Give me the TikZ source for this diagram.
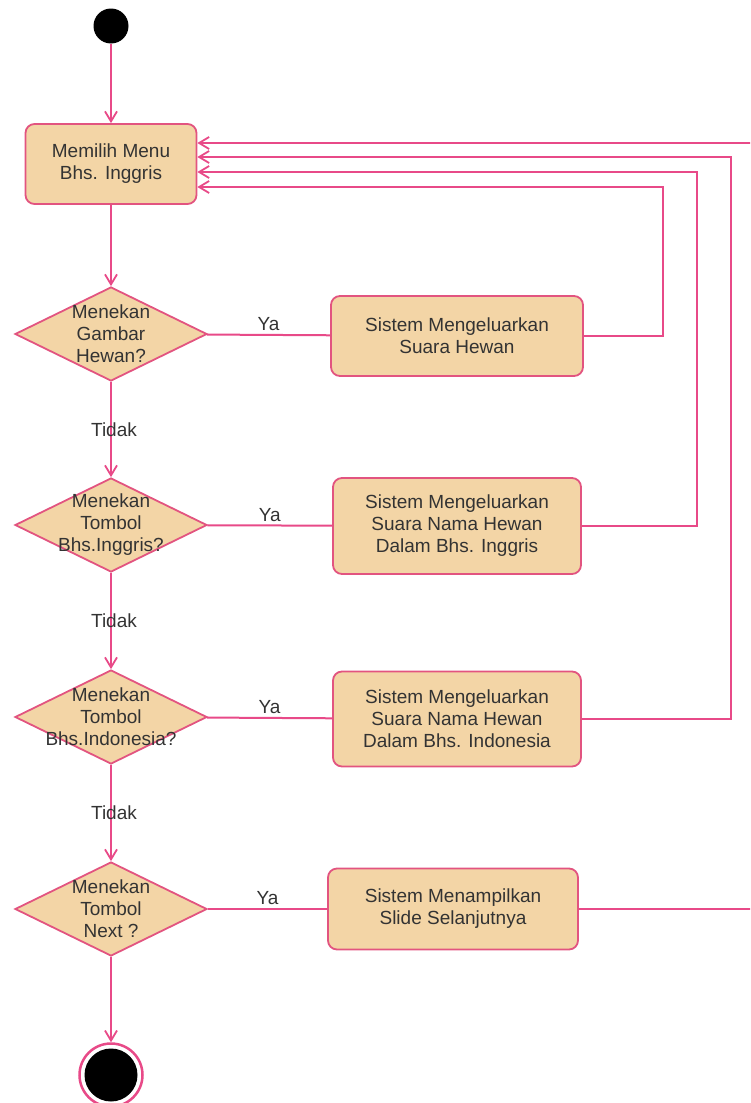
\documentclass[tikz,border=0pt]{standalone}
\usepackage{fontspec}
\setmainfont{Liberation Sans}
\usetikzlibrary{shapes.geometric,arrows.meta}
\definecolor{linec}{RGB}{232,74,136}
\definecolor{edgec}{RGB}{226,84,128}
\definecolor{boxfill}{RGB}{243,213,166}
\definecolor{txt}{RGB}{51,51,51}
\begin{document}
\begin{tikzpicture}[x=1pt,y=-1pt,
  font=\fontsize{19}{22}\selectfont, text=txt,
  action/.style={rectangle, rounded corners=9pt, draw=edgec, line width=1.8pt,
    fill=boxfill, align=center, inner sep=0pt},
  decision/.style={diamond, draw=edgec, line width=1.8pt, fill=boxfill,
    inner sep=0pt, minimum width=192pt, minimum height=94pt},
  dtext/.style={align=center, inner sep=0pt},
  startnode/.style={circle, fill=black, minimum size=35pt, inner sep=0pt},
  endnode/.style={circle, draw=linec, line width=2.5pt, fill=white,
    minimum size=63pt, inner sep=0pt,
    path picture={\fill[black] (path picture bounding box.center) circle (26.5pt);}},
  link/.style={draw=linec, line width=2pt},
  flow/.style={link, -{Straight Barb[length=10pt,width=12pt,line width=1.8pt]}},
  yes/.style={midway, above, inner sep=3pt},
  no/.style={midway, inner sep=0pt, xshift=3pt}
]
\clip (0,0) rectangle (750,1103);

% start and end
\node[startnode] (start) at (111,26) {};
\node[endnode] (stop) at (111,1075) {};

% main menu
\node[action, minimum width=171pt, minimum height=80pt] (m1) at (111,164)
  {Memilih Menu\\Bhs. Inggris};

% decisions
\node[decision] (d1) at (111,334) {};
\node[dtext] at (d1) {Menekan\\Gambar\\Hewan?};
\node[decision] (d2) at (111,525) {};
\node[dtext] at (d2) {Menekan\\Tombol\\Bhs.Inggris?};
\node[decision] (d3) at (111,717) {};
\node[dtext] at (d3) {Menekan\\Tombol\\Bhs.Indonesia?};
\node[decision] (d4) at (111,909) {};
\node[dtext] at (d4) {Menekan\\Tombol\\Next ?};

% actions
\node[action, minimum width=252pt, minimum height=80pt] (b2) at (457,336)
  {Sistem Mengeluarkan\\Suara Hewan};
\node[action, minimum width=248pt, minimum height=96pt] (b3) at (457,526)
  {Sistem Mengeluarkan\\Suara Nama Hewan\\Dalam Bhs. Inggris};
\node[action, minimum width=248pt, minimum height=95pt] (b4) at (457,719)
  {Sistem Mengeluarkan\\Suara Nama Hewan\\Dalam Bhs. Indonesia};
\node[action, minimum width=250pt, minimum height=81pt] (b5) at (453,909)
  {Sistem Menampilkan\\Slide Selanjutnya};

% return points on the right
\coordinate (r1) at (663,187);
\coordinate (r2) at (697,172);
\coordinate (r3) at (731,157);
\coordinate (r4) at (765,143);

% main flow
\draw[flow] (start) -- (m1);
\draw[flow] (m1) -- (d1);
\draw[flow] (d1) -- node[no]{Tidak} (d2);
\draw[flow] (d2) -- node[no]{Tidak} (d3);
\draw[flow] (d3) -- node[no]{Tidak} (d4);
\draw[flow] (d4) -- (stop);

% yes branches
\draw[link] (d1) -- node[yes]{Ya} (b2);
\draw[link] (d2) -- node[yes]{Ya} (b3);
\draw[link] (d3) -- node[yes]{Ya} (b4);
\draw[link] (d4) -- node[yes]{Ya} (b5);

% back to the menu
\draw[flow] (b2.east) -| (r1) -- (m1.east |- r1);
\draw[flow] (b3.east) -| (r2) -- (m1.east |- r2);
\draw[flow] (b4.east) -| (r3) -- (m1.east |- r3);
\draw[flow] (b5.east) -| (r4) -- (m1.east |- r4);
\end{tikzpicture}
\end{document}
